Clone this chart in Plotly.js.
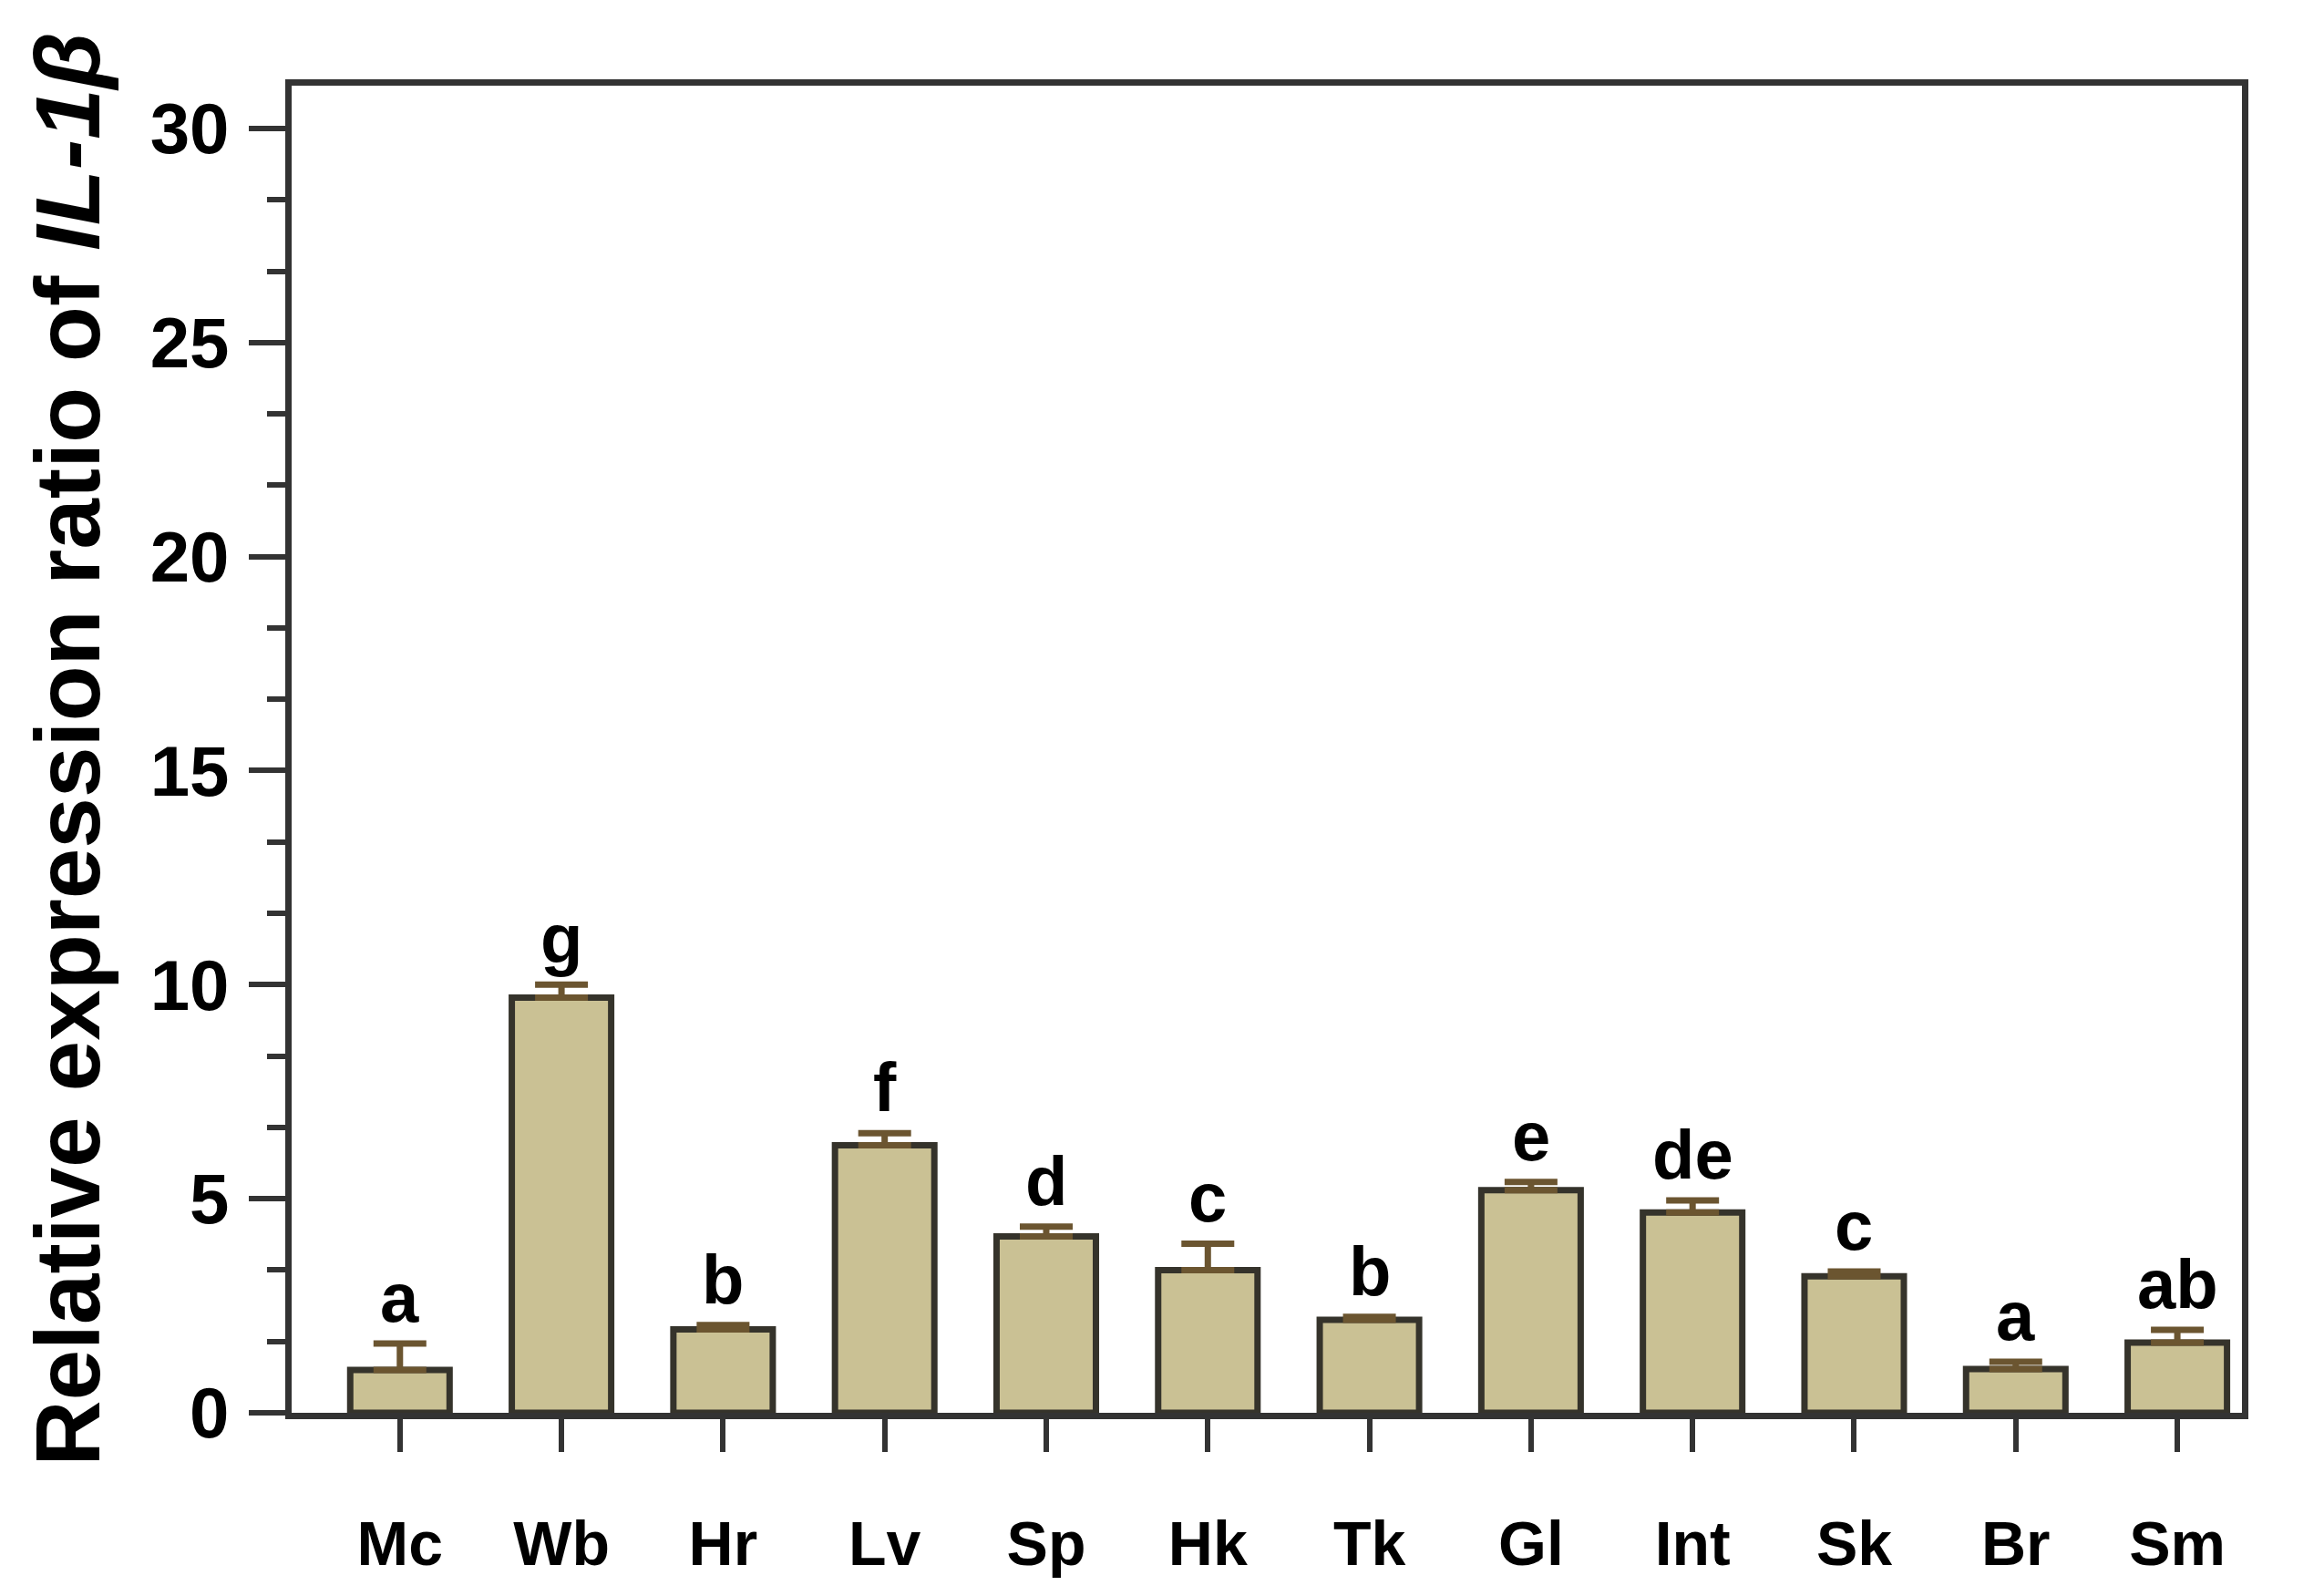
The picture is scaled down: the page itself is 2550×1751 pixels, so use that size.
<!DOCTYPE html>
<html>
<head>
<meta charset="utf-8">
<script src="https://cdn.plot.ly/plotly-3.0.1.min.js"></script>
<style>html,body{margin:0;padding:0;background:#fff;}#chart{width:2550px;height:1751px;}</style>
</head>
<body>
<div id="chart"></div>
<script>
var categories = ['Mc','Wb','Hr','Lv','Sp','Hk','Tk','Gl','Int','Sk','Br','Sm'];
var means = [1.0, 9.7, 1.95, 6.25, 4.12, 3.33, 2.17, 5.2, 4.68, 3.19, 1.02, 1.64];
var errs = [0.62, 0.3, 0.1, 0.28, 0.23, 0.62, 0.07, 0.19, 0.28, 0.11, 0.17, 0.3];
var letters = ['a','g','b','f','d','c','b','e','de','c','a','ab'];
var yTickVals = [0, 5, 10, 15, 20, 25, 30];
var yTickText = ['0', '5', '10', '15', '20', '25', '30'];

var FONT = 'Liberation Sans, Arial, sans-serif';
var AXC = '#333333';

var trace = {
  type: 'bar',
  x: categories,
  y: means,
  width: 0.615,
  marker: {color: '#CAC194', line: {color: '#35332b', width: 7}},
  error_y: {type: 'data', symmetric: false, array: errs, arrayminus: errs.map(function(){return 0;}),
            color: '#6b5530', thickness: 7, width: 29},
  hoverinfo: 'x+y'
};

var annotations = categories.map(function(c, i){
  return {x: c, y: means[i] + errs[i], xref: 'x', yref: 'y', text: letters[i], showarrow: false,
          yanchor: 'bottom', yshift: 6,
          font: {family: FONT, size: 76, color: '#000', weight: 'bold'}};
});

var layout = {
  width: 2550, height: 1751,
  margin: {l: 320, r: 90, t: 94, b: 201},
  paper_bgcolor: '#fff', plot_bgcolor: '#fff',
  showlegend: false,
  bargap: 0.4,
  xaxis: {
    type: 'category',
    range: [-0.67, 11.4],
    showline: true, linecolor: AXC, linewidth: 7, mirror: true,
    ticks: 'outside', ticklen: 36, tickwidth: 6, tickcolor: AXC,
    showgrid: false, zeroline: false,
    ticklabelstandoff: 42,
    tickfont: {family: FONT, size: 68, color: '#000', weight: 'bold'}
  },
  yaxis: {
    range: [0, 31],
    tickvals: yTickVals, ticktext: yTickText,
    showline: true, linecolor: AXC, linewidth: 7, mirror: true,
    ticks: 'outside', ticklen: 40, tickwidth: 6, tickcolor: AXC,
    minor: {dtick: 5/3, tick0: 0, ticks: 'outside', ticklen: 20, tickwidth: 6, tickcolor: AXC, showgrid: false},
    showgrid: false, zeroline: false,
    ticklabelstandoff: 6,
    tickfont: {family: FONT, size: 78, color: '#000', weight: 'bold'},
    title: {text: 'Relative expression ratio of <i>IL-1β</i>', standoff: 24,
            font: {family: FONT, size: 100, color: '#000', weight: 'bold'}}
  },
  annotations: annotations
};

Plotly.newPlot('chart', [trace], layout, {staticPlot: true, displayModeBar: false});
</script>
</body>
</html>
